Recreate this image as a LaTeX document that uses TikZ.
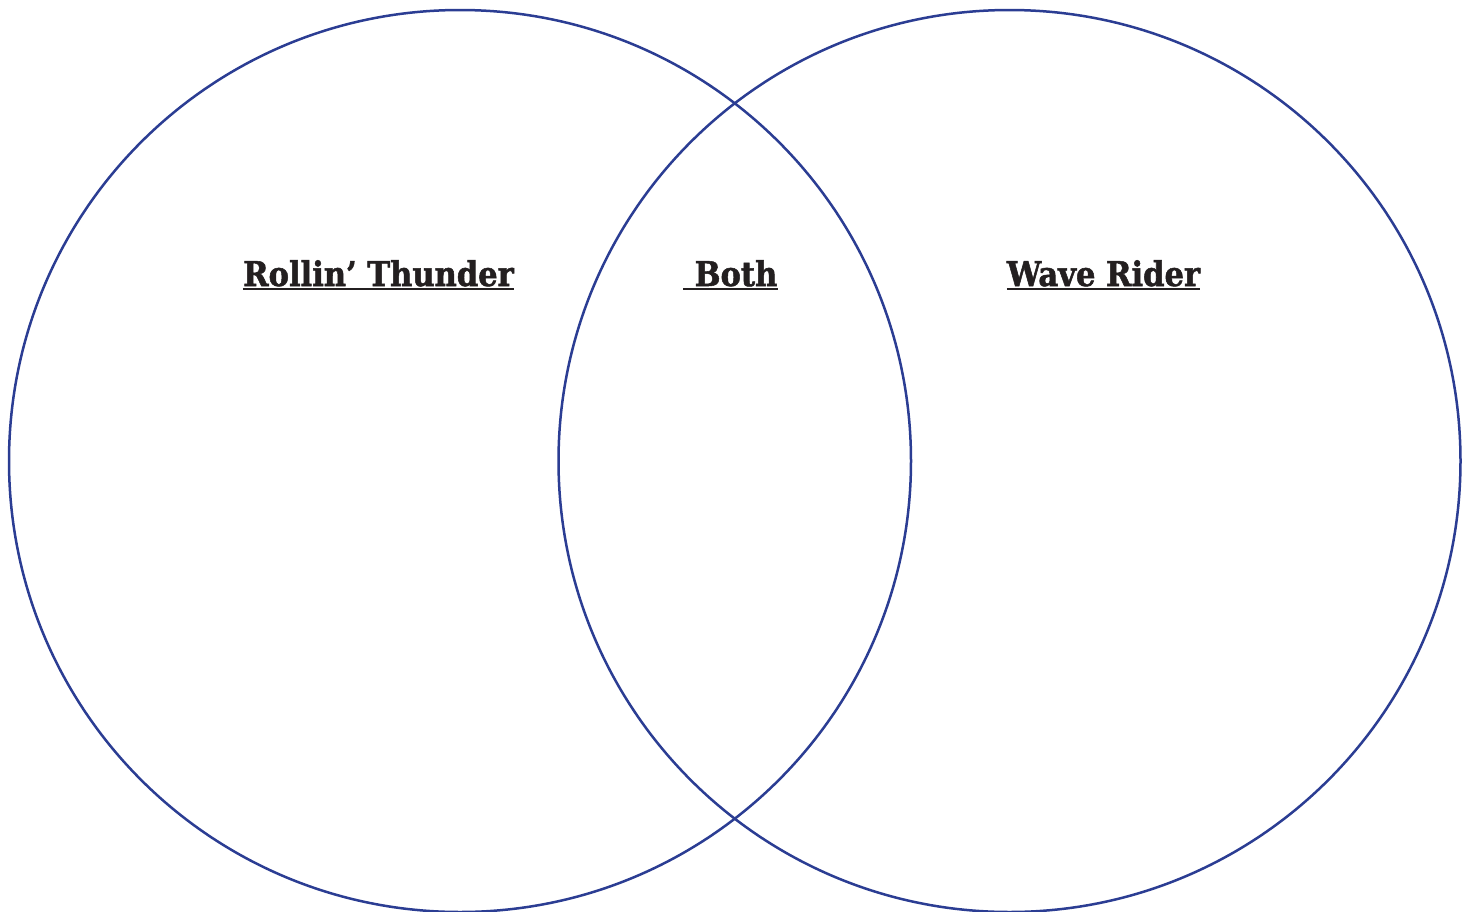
\documentclass[tikz,border=0pt]{standalone}
\usepackage{fontspec}
\setmainfont{DejaVu Serif}
\newfontfamily\lblfont{DejaVu Serif Condensed}[BoldFont={* Bold}, BoldFeatures={FakeBold=1.5}]
\definecolor{ring}{HTML}{2B3D93}
\definecolor{ink}{HTML}{231F20}
\tikzset{
  ringstyle/.style={circle, draw=ring, line width=2.5pt, minimum size=902pt, inner sep=0pt},
  lbl/.style={anchor=base, inner sep=0pt, text=ink, font=\lblfont\bfseries\fontsize{34}{40}\selectfont},
  uline/.style={draw=ink, line width=2pt}
}
\begin{document}
\begin{tikzpicture}[x=1pt,y=-1pt]
\useasboundingbox (0,0) rectangle (1473,911);
\fill[white] (0,0) rectangle (1473,911);
\begin{scope}
\clip (0,0) rectangle (1473,911);
\node[ringstyle] (left) at (460,461) {};
\node[ringstyle] (right) at (1009.5,461) {};
\end{scope}
\node[lbl] (rt) at (378.5,286) {Rollin’ Thunder};
\node[lbl] (both) at (736,286) {Both};
\node[lbl] (wr) at (1103.5,286) {Wave Rider};
\draw[uline] ([yshift=-3pt]rt.base west) -- ([yshift=-3pt]rt.base east);
\draw[uline] ([xshift=-11pt,yshift=-3pt]both.base west) -- ([yshift=-3pt]both.base east);
\draw[uline] ([yshift=-3pt]wr.base west) -- ([yshift=-3pt]wr.base east);
\end{tikzpicture}
\end{document}
